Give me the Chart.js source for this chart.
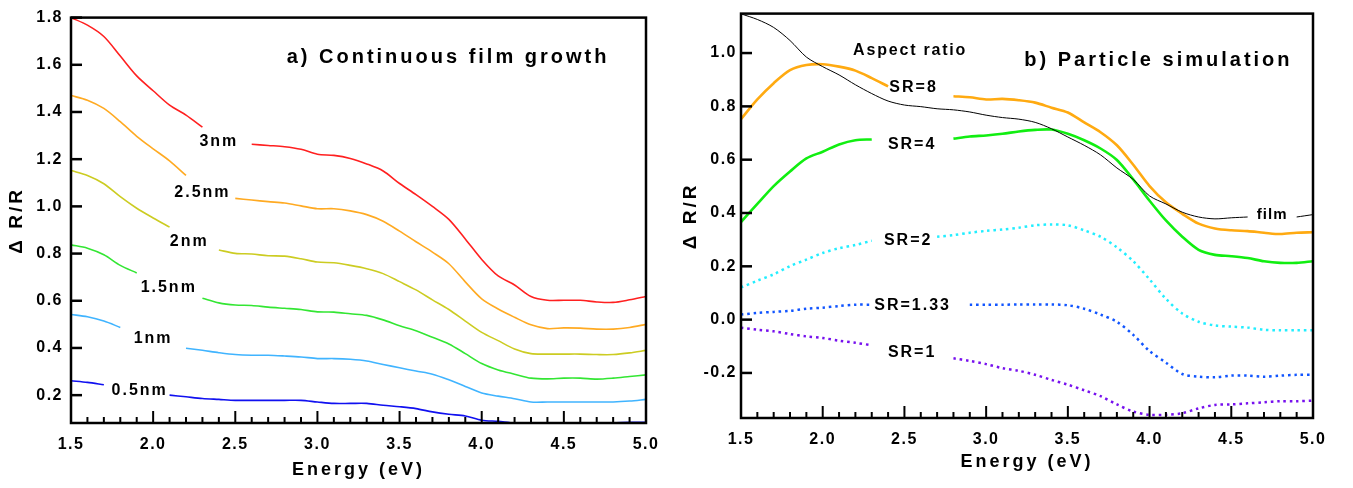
<!DOCTYPE html>
<html>
<head>
<meta charset="utf-8">
<script src="https://cdn.jsdelivr.net/npm/chart.js@4.4.0/dist/chart.umd.min.js"></script>
<style>
  body { margin: 0; background: #fff; width: 1353px; height: 488px; position: relative; overflow: hidden; }
  #chartA { position: absolute; left: 0; top: 0; }
  #chartB { position: absolute; left: 676px; top: 0; }
</style>
</head>
<body>
<canvas id="chartA" width="676" height="488"></canvas>
<canvas id="chartB" width="677" height="488"></canvas>
<script>
// photon energy grid (eV)
const energy = [1.5, 1.6, 1.7, 1.8, 1.9, 2.0, 2.1, 2.2, 2.3, 2.4, 2.5, 2.6, 2.7, 2.8, 2.9, 3.0, 3.1, 3.2,
                3.3, 3.4, 3.5, 3.6, 3.7, 3.8, 3.9, 4.0, 4.1, 4.2, 4.3, 4.4, 4.5, 4.6, 4.7, 4.8, 4.9, 5.0];
const xTicks = [1.5, 2.0, 2.5, 3.0, 3.5, 4.0, 4.5, 5.0];
const yTicksA = [0.2, 0.4, 0.6, 0.8, 1.0, 1.2, 1.4, 1.6, 1.8];
const yTicksB = [-0.2, 0.0, 0.2, 0.4, 0.6, 0.8, 1.0];

// a) continuous film growth, dR/R (null = gap under the label)
const film3nm  = [1.80, 1.768, 1.72, 1.637, 1.553, 1.49, 1.429, 1.387, 1.336, null, null, 1.263, 1.258, 1.253, 1.242, 1.221, 1.216, 1.203,
                  1.18, 1.15, 1.097, 1.05, 1.0, 0.945, 0.862, 0.775, 0.705, 0.667, 0.618, 0.602, 0.602, 0.602, 0.595, 0.593, 0.604, 0.618];
const film25nm = [1.47, 1.45, 1.415, 1.359, 1.297, 1.244, 1.193, 1.131, null, null, 1.034, 1.027, 1.02, 1.014, 1.002, 0.99, 0.99, 0.981,
                  0.965, 0.937, 0.895, 0.85, 0.806, 0.757, 0.68, 0.608, 0.565, 0.53, 0.498, 0.482, 0.485, 0.484, 0.48, 0.48, 0.487, 0.50];
const film2nm  = [1.152, 1.131, 1.096, 1.041, 0.992, 0.951, 0.912, null, null, 0.815, 0.801, 0.798, 0.791, 0.789, 0.778, 0.764, 0.761, 0.75,
                  0.736, 0.715, 0.681, 0.646, 0.604, 0.563, 0.514, 0.466, 0.431, 0.396, 0.376, 0.374, 0.374, 0.374, 0.372, 0.372, 0.379, 0.39];
const film15nm = [0.837, 0.823, 0.795, 0.75, 0.718, null, null, null, 0.611, 0.591, 0.582, 0.58, 0.573, 0.568, 0.563, 0.553, 0.552, 0.545,
                  0.538, 0.519, 0.494, 0.473, 0.445, 0.417, 0.376, 0.334, 0.307, 0.289, 0.272, 0.269, 0.272, 0.272, 0.268, 0.272, 0.279, 0.286];
const film1nm  = [0.542, 0.532, 0.514, 0.487, null, null, null, 0.399, 0.39, 0.38, 0.372, 0.369, 0.369, 0.366, 0.362, 0.355, 0.355, 0.352,
                  0.345, 0.33, 0.316, 0.302, 0.289, 0.265, 0.237, 0.209, 0.196, 0.185, 0.171, 0.171, 0.171, 0.171, 0.171, 0.171, 0.175, 0.182];
const film05nm = [0.261, 0.254, 0.244, null, null, null, 0.2, 0.193, 0.186, 0.182, 0.178, 0.178, 0.178, 0.178, 0.178, 0.171, 0.165, 0.165,
                  0.165, 0.157, 0.151, 0.143, 0.129, 0.119, 0.112, 0.094, 0.089, 0.082, 0.082, 0.082, 0.082, 0.082, 0.082, 0.082, 0.085, 0.085];

// b) particle simulation, dR/R
const simFilm = [1.147, 1.126, 1.096, 1.047, 0.985, 0.949, 0.918, 0.881, 0.848, 0.82, 0.805, 0.799, 0.791, 0.787, 0.779, 0.767, 0.758, 0.752,
                 0.74, 0.716, 0.685, 0.654, 0.618, 0.569, 0.526, 0.464, 0.434, 0.403, 0.385, 0.378, 0.382, 0.385, null, null, 0.385, 0.394];
const sr8   = [0.752, 0.826, 0.887, 0.936, 0.955, 0.958, 0.949, 0.934, 0.906, 0.875, null, null, null, 0.838, 0.834, 0.826, 0.828, 0.823,
               0.814, 0.795, 0.777, 0.74, 0.703, 0.654, 0.581, 0.501, 0.44, 0.397, 0.36, 0.342, 0.335, 0.332, 0.326, 0.321, 0.326, 0.328];
const sr4   = [0.366, 0.434, 0.501, 0.556, 0.605, 0.63, 0.657, 0.673, 0.676, null, null, null, null, 0.679, 0.687, 0.691, 0.697, 0.706,
               0.712, 0.713, 0.697, 0.673, 0.642, 0.599, 0.526, 0.446, 0.372, 0.311, 0.262, 0.243, 0.238, 0.231, 0.219, 0.213, 0.213, 0.219];
const sr2   = [0.121, 0.146, 0.17, 0.201, 0.225, 0.25, 0.268, 0.28, 0.296, null, null, null, 0.311, 0.317, 0.326, 0.333, 0.338, 0.345,
               0.354, 0.357, 0.354, 0.335, 0.311, 0.271, 0.219, 0.151, 0.078, 0.023, -0.008, -0.022, -0.026, -0.03, -0.038, -0.04, -0.04, -0.04];
const sr133 = [0.019, 0.025, 0.029, 0.033, 0.041, 0.045, 0.051, 0.056, 0.056, null, null, null, null, null, 0.056, 0.056, 0.056, 0.057,
               0.057, 0.057, 0.054, 0.041, 0.019, -0.008, -0.057, -0.118, -0.161, -0.204, -0.214, -0.216, -0.21, -0.21, -0.214, -0.21, -0.207, -0.207];
const sr1   = [-0.03, -0.038, -0.044, -0.054, -0.063, -0.069, -0.079, -0.087, -0.096, null, null, null, null, -0.145, -0.155, -0.167, -0.182, -0.192,
               -0.207, -0.226, -0.244, -0.265, -0.287, -0.318, -0.345, -0.357, -0.357, -0.351, -0.333, -0.32, -0.318, -0.314, -0.31, -0.306, -0.306, -0.304];

// text written inside the plots, placed in data coordinates
const notesA = [
    { text: 'a) Continuous film growth', e: 3.795, v: 1.63, size: 20, ls: 3 },
    { text: '3nm', e: 2.40, v: 1.276 },
    { text: '2.5nm', e: 2.30, v: 1.057 },
    { text: '2nm', e: 2.22, v: 0.852 },
    { text: '1.5nm', e: 2.095, v: 0.657 },
    { text: '1nm', e: 2.0, v: 0.438 },
    { text: '0.5nm', e: 1.918, v: 0.221 }
];
const notesB = [
    { text: 'b) Particle simulation', e: 4.054, v: 0.974, size: 20, ls: 3 },
    { text: 'Aspect ratio', e: 2.535, v: 1.011, size: 16, ls: 1.8 },
    { text: 'SR=8', e: 2.556, v: 0.869 },
    { text: 'SR=4', e: 2.547, v: 0.657 },
    { text: 'SR=2', e: 2.523, v: 0.296 },
    { text: 'SR=1.33', e: 2.55, v: 0.054 },
    { text: 'SR=1', e: 2.547, v: -0.122 },
    { text: 'film', e: 4.75, v: 0.394, size: 15, ls: 1 }
];

const FONT = '"Liberation Sans", Arial, sans-serif';
const pts = vals => energy.map((e, i) => ({ x: e, y: vals[i] }));

// frame, inward ticks and in-plot labels
const frameTicks = {
    id: 'frameTicks',
    beforeDraw(chart) { chart.ctx.letterSpacing = '3px'; },
    afterDatasetsDraw(chart) { chart.ctx.letterSpacing = '1.5px'; },
    afterDraw(chart, args, opts) {
        const { ctx, chartArea: a, scales: { x, y } } = chart;
        ctx.save();
        ctx.strokeStyle = '#000';
        ctx.lineWidth = 2.5;
        ctx.strokeRect(a.left, a.top, a.right - a.left, a.bottom - a.top);

        ctx.lineWidth = 2;
        energy.forEach(v => {
            const px = x.getPixelForValue(v);
            const major = Math.abs(v * 2 - Math.round(v * 2)) < 1e-6;
            ctx.beginPath();
            ctx.moveTo(px, a.bottom);
            ctx.lineTo(px, a.bottom - (major ? 12 : 6));
            ctx.stroke();
        });
        ctx.lineWidth = 2.5;
        y.ticks.forEach(t => {
            const py = y.getPixelForValue(t.value);
            ctx.beginPath();
            ctx.moveTo(a.left, py);
            ctx.lineTo(a.left + 11, py);
            ctx.stroke();
        });

        ctx.fillStyle = '#000';
        ctx.textAlign = 'center';
        ctx.textBaseline = 'middle';
        (opts.notes || []).forEach(n => {
            ctx.font = `bold ${n.size || 16}px ${FONT}`;
            ctx.letterSpacing = `${n.ls || 2}px`;
            ctx.fillText(n.text, x.getPixelForValue(n.e), y.getPixelForValue(n.v));
        });
        ctx.restore();
    }
};

function makeOptions(cfg) {
    return {
        responsive: false,
        animation: false,
        layout: { padding: { left: 0, top: cfg.top, right: cfg.right, bottom: 0 } },
        plugins: {
            legend: { display: false },
            tooltip: { enabled: false },
            frameTicks: { notes: cfg.notes }
        },
        elements: { point: { radius: 0 }, line: { tension: 0.3 } },
        scales: {
            x: {
                type: 'linear', min: 1.5, max: 5.0,
                afterFit(s) { s.height = cfg.xHeight; },
                afterBuildTicks(s) { s.ticks = xTicks.map(v => ({ value: v })); },
                grid: { display: false, drawTicks: false },
                border: { display: false },
                ticks: {
                    z: 1, padding: 12, autoSkip: false, maxRotation: 0, color: '#000',
                    font: { family: FONT, size: 16, weight: 'bold' },
                    callback: v => v.toFixed(1)
                },
                title: {
                    display: true, text: 'Energy (eV)', color: '#000',
                    font: { family: FONT, size: 18, weight: 'bold' },
                    padding: { top: 0, bottom: cfg.xTitlePad }
                }
            },
            y: {
                min: cfg.yMin, max: cfg.yMax,
                afterFit(s) { s.width = cfg.yWidth; },
                afterBuildTicks(s) { s.ticks = cfg.yTicks.map(v => ({ value: v })); },
                grid: { display: false, drawTicks: false },
                border: { display: false },
                ticks: {
                    z: 1, padding: cfg.yPad, color: '#000',
                    font: { family: FONT, size: 16, weight: 'bold' },
                    callback: v => v.toFixed(1)
                },
                title: {
                    display: true, text: 'Δ R/R', color: '#000',
                    font: { family: FONT, size: 19, weight: 'bold' },
                    padding: { top: cfg.yTitlePad, bottom: 0 }
                }
            }
        }
    };
}

const thin = (data, color) => ({ data: pts(data), borderColor: color, borderWidth: 1.6, fill: false });

new Chart(document.getElementById('chartA'), {
    type: 'line',
    data: {
        datasets: [
            thin(film3nm, '#ff2020'),
            thin(film25nm, '#ffaa22'),
            thin(film2nm, '#cccc22'),
            thin(film15nm, '#33e633'),
            thin(film1nm, '#40b4ff'),
            thin(film05nm, '#1010f0')
        ]
    },
    options: makeOptions({ top: 9, right: 30, xHeight: 65, yWidth: 71, yMin: 0.082, yMax: 1.8,
        yTicks: yTicksA, yPad: 8, xTitlePad: 7, yTitlePad: 5, notes: notesA }),
    plugins: [frameTicks]
});

const dotted = (data, color) => ({ data: pts(data), borderColor: color, borderWidth: 2.5, borderDash: [2.5, 3.8], fill: false });

new Chart(document.getElementById('chartB'), {
    type: 'line',
    data: {
        datasets: [
            { data: pts(simFilm), borderColor: '#000', borderWidth: 1, fill: false },
            { data: pts(sr8), borderColor: '#ffaa11', borderWidth: 2.6, fill: false },
            { data: pts(sr4), borderColor: '#11ee11', borderWidth: 2.6, fill: false },
            dotted(sr2, '#22eeff'),
            dotted(sr133, '#1155ff'),
            dotted(sr1, '#7711ee')
        ]
    },
    options: makeOptions({ top: 6, right: 40, xHeight: 70, yWidth: 65, yMin: -0.369, yMax: 1.148,
        yTicks: yTicksB, yPad: 4, xTitlePad: 15, yTitlePad: 3, notes: notesB }),
    plugins: [frameTicks]
});
</script>
</body>
</html>
